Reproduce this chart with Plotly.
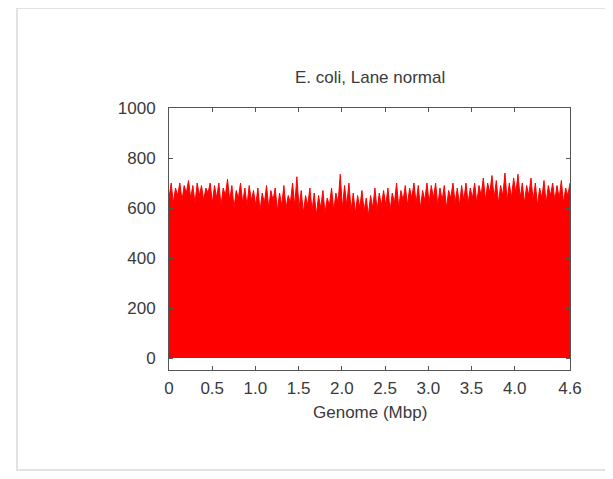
import plotly.graph_objects as go

title_text = "E. coli, Lane normal"
x_title = "Genome (Mbp)"
genome_length_mbp = 4.64

# coverage read along the genome (evenly spaced bins)
coverage = [
    640, 700, 620, 680, 650, 700, 630, 690, 660, 710, 640, 690, 620, 700, 650, 690, 630, 680, 660, 700,
    620, 690, 640, 700, 610, 680, 650, 715, 630, 690, 600, 670, 640, 700, 620, 680, 610, 690, 630, 670,
    610, 680, 590, 660, 620, 690, 600, 670, 630, 680, 590, 660, 610, 690, 600, 650, 620, 700, 610, 725,
    600, 670, 580, 650, 610, 680, 590, 660, 570, 650, 600, 670, 580, 640, 610, 680, 590, 660, 620, 735,
    600, 690, 610, 700, 590, 660, 580, 650, 600, 670, 590, 640, 570, 650, 600, 680, 590, 660, 610, 670,
    610, 680, 590, 660, 620, 700, 600, 670, 630, 690, 610, 680, 640, 700, 620, 690, 600, 670, 630, 700,
    620, 690, 640, 700, 610, 680, 630, 690, 600, 670, 640, 700, 620, 680, 610, 690, 630, 700, 620, 680,
    640, 700, 620, 690, 650, 720, 630, 700, 660, 730, 640, 710, 620, 690, 650, 740, 630, 700, 640, 720,
    660, 735, 640, 700, 620, 690, 650, 720, 630, 700, 610, 680, 640, 710, 620, 690, 650, 700, 630, 690,
    640, 710, 620, 680, 650, 700,
]

x_tick_vals = [0, 0.5, 1.0, 1.5, 2.0, 2.5, 3.0, 3.5, 4.0, 4.64]
x_tick_text = ["0", "0.5", "1.0", "1.5", "2.0", "2.5", "3.0", "3.5", "4.0", "4.6"]
y_tick_vals = [0, 200, 400, 600, 800, 1000]

n = len(coverage)
positions = [genome_length_mbp * i / (n - 1) for i in range(n)]

OFF = 8  # page body margin
W, H = 613 - OFF, 479 - OFF
L, T = 169 - OFF, 108 - OFF
R = W - (570 - OFF)
B = H - (370 - OFF)
pw, ph = W - L - R, H - T - B

def px(x):
    return (x - OFF - L) / pw

def py(y):
    return (T + ph - (y - OFF)) / ph

font_family = "Liberation Sans, Arial, sans-serif"
text_color = "#3a3a3a"
axis_color = "#555555"
fs = 17

fig = go.Figure()
fig.add_trace(go.Scatter(
    x=positions, y=coverage, mode="lines", fill="tozeroy",
    line=dict(color="#ff0000", width=1), fillcolor="#ff0000",
    hoverinfo="skip", showlegend=False,
))

axis_common = dict(
    showgrid=False, zeroline=False, showline=True, linecolor=axis_color, linewidth=1,
    mirror="allticks", ticks="inside", ticklen=4, tickcolor=axis_color,
    tickfont=dict(family=font_family, size=fs, color=text_color),
)

fig.update_xaxes(range=[0, genome_length_mbp], tickvals=x_tick_vals, ticktext=x_tick_text,
                 ticklabelstandoff=3, **axis_common)
fig.update_yaxes(range=[-48, 1000], tickvals=y_tick_vals, ticklabelstandoff=9, **axis_common)

fig.add_annotation(text=title_text, x=0.5, y=py(77), xref="paper", yref="paper",
                   showarrow=False, xanchor="center", yanchor="middle",
                   font=dict(family=font_family, size=fs, color=text_color))
fig.add_annotation(text=x_title, x=0.5, y=py(412), xref="paper", yref="paper",
                   showarrow=False, xanchor="center", yanchor="middle",
                   font=dict(family=font_family, size=fs, color=text_color))

fig.add_shape(type="rect", xref="paper", yref="paper",
              x0=px(17), x1=px(611), y0=py(470), y1=py(8),
              line=dict(color="#e2e2e2", width=2), fillcolor="rgba(0,0,0,0)", layer="below")

fig.update_layout(
    width=W, height=H, margin=dict(l=L, r=R, t=T, b=B),
    paper_bgcolor="white", plot_bgcolor="white",
)

fig.write_html("out.html")
